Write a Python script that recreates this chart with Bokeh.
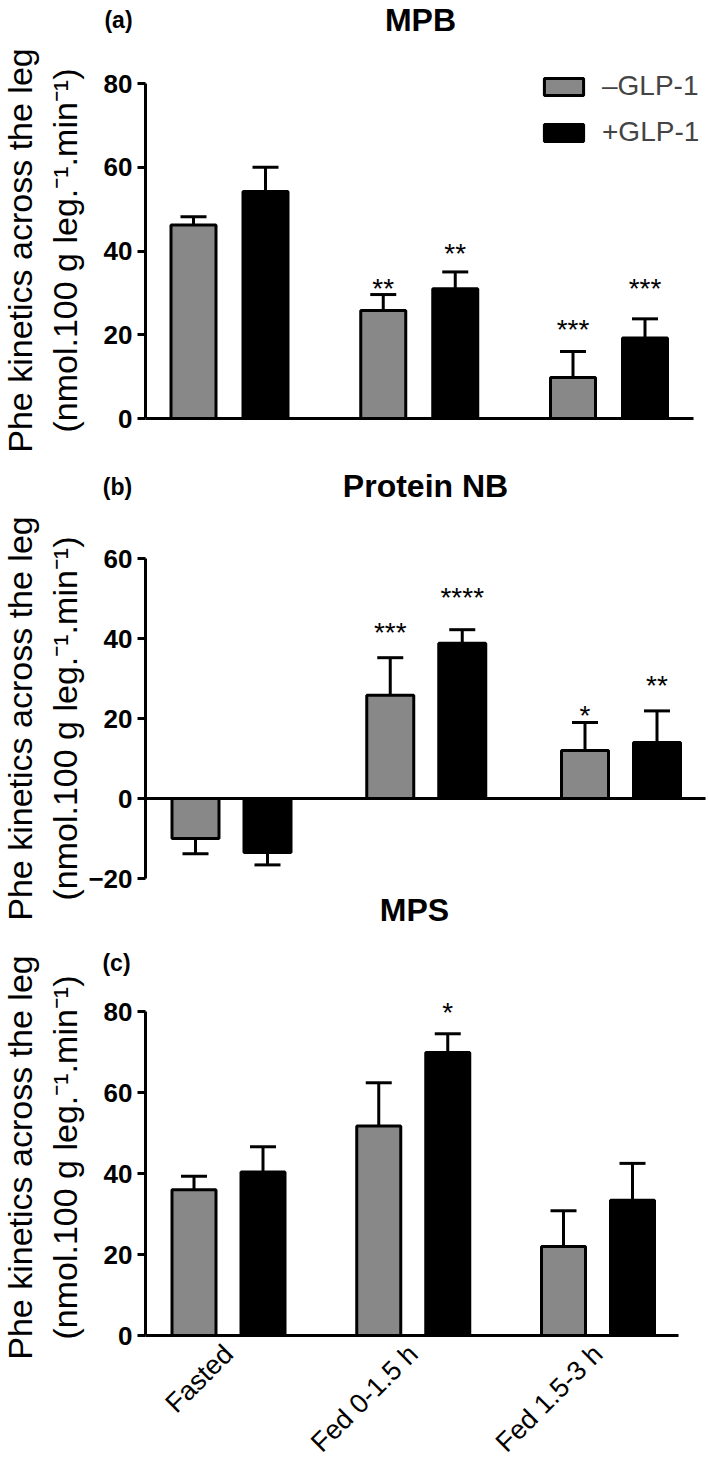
import math
from bokeh.plotting import figure
from bokeh.models import (Range1d, FixedTicker, ColumnDataSource, LabelSet, Label,
                          Legend, LegendItem)
from bokeh.transform import dodge
from bokeh.layouts import column
from bokeh.embed import file_html
from bokeh.resources import INLINE
from bokeh.core.properties import value

# ---------------- data ----------------
groups = ["Fasted", "Fed 0-1.5 h", "Fed 1.5-3 h"]
series_labels = ["\u2013GLP-1", "+GLP-1"]

mpb_minus = [46.2, 25.8, 9.8]
mpb_minus_sem = [2.0, 3.8, 6.2]
mpb_plus = [54.2, 31.0, 19.2]
mpb_plus_sem = [5.8, 4.0, 4.6]
mpb_minus_sig = ["", "**", "***"]
mpb_plus_sig = ["", "**", "***"]
mpb_minus_sig_y = [0, 32.4, 22.8]
mpb_plus_sig_y = [0, 40.8, 32.4]

nb_minus = [-10.0, 25.8, 12.0]
nb_minus_sem = [3.8, 9.4, 7.0]
nb_plus = [-13.5, 38.8, 14.0]
nb_plus_sem = [3.1, 3.4, 7.9]
nb_minus_sig = ["", "***", "*"]
nb_plus_sig = ["", "****", "**"]
nb_minus_sig_y = [0, 43.0, 22.3]
nb_plus_sig_y = [0, 51.8, 29.7]

mps_minus = [36.0, 51.7, 22.0]
mps_minus_sem = [3.3, 10.7, 8.8]
mps_plus = [40.4, 69.9, 33.4]
mps_plus_sem = [6.2, 4.6, 9.1]
mps_minus_sig = ["", "", ""]
mps_plus_sig = ["", "*", ""]
mps_minus_sig_y = [0, 0, 0]
mps_plus_sig_y = [0, 81.2, 0]

mpb_ticks = [0, 20, 40, 60, 80]
nb_ticks = [-20, 0, 20, 40, 60]
mps_ticks = [0, 20, 40, 60, 80]

titles = ["MPB", "Protein NB", "MPS"]
letters = ["(a)", "(b)", "(c)"]

y_label = "Phe kinetics across the leg\n(nmol.100 g leg.\u207b\u00b9.min\u207b\u00b9)"

FONT = "Liberation Sans"
GRAY = "#888888"
FIG_W = 709
AXIS_X = 145          # px position of the y axis


def make_panel(minus, minus_sem, plus, plus_sem, msig, psig, msig_y, psig_y,
               ticks, geo, show_x_labels=False, legend=None):
    # geo: fig height, canvas y of lowest / highest tick, px of first group centre,
    #      px between groups, px between paired bars, bar width px, right end of x axis
    H, px_lo, px_hi, cx0, step, d_in, bw, x_right = geo
    lo, hi = ticks[0], ticks[-1]
    ppu = (px_lo - px_hi) / (hi - lo)
    y_start = lo - (H - px_lo) / ppu
    y_end = hi + px_hi / ppu
    x_start = -cx0 / step
    x_end = x_start + FIG_W / step

    p = figure(width=FIG_W, height=H, x_range=Range1d(x_start, x_end),
               y_range=Range1d(y_start, y_end),
               output_backend="svg", toolbar_location=None,
               min_border_left=0, min_border_right=0,
               min_border_top=0, min_border_bottom=0)
    p.outline_line_color = None
    p.xgrid.visible = False
    p.ygrid.visible = False
    p.background_fill_color = None
    p.border_fill_color = None

    gx = list(range(len(groups)))
    off = (d_in / 2) / step
    width = (bw - 3) / step
    renders = []
    for vals, sems, sigs, sig_y, color, sgn in [
        (minus, minus_sem, msig, msig_y, GRAY, -1),
        (plus, plus_sem, psig, psig_y, "black", 1),
    ]:
        ends = [v + s if v >= 0 else v - s for v, s in zip(vals, sems)]
        src = ColumnDataSource(dict(g=gx, v=vals, e=ends))
        xs = dodge("g", sgn * off)
        p.segment(x0=xs, y0="v", x1=xs, y1="e", source=src,
                  line_color="black", line_width=3)
        p.scatter(x=xs, y="e", source=src, marker="dash", size=26, line_width=3,
                  line_color="black")
        r = p.vbar(x=xs, top="v", bottom=0, width=width, source=src,
                   fill_color=color, line_color="black", line_width=3)
        renders.append(r)
        keep = [i for i, s in enumerate(sigs) if s]
        if keep:
            ssrc = ColumnDataSource(dict(g=[gx[i] for i in keep],
                                         y=[sig_y[i] for i in keep],
                                         t=[sigs[i] for i in keep]))
            p.add_layout(LabelSet(x=dodge("g", sgn * off), y="y",
                                  text="t", source=ssrc, text_align="center",
                                  text_baseline="middle", y_offset=-6,
                                  text_font=value(FONT), text_font_size=value("28px"),
                                  text_color="black"))

    x_axis_pos = x_start + AXIS_X / step

    # y axis, fixed at the left edge of the bar area, drawn over the tick span
    ya = p.yaxis[0]
    ya.fixed_location = x_axis_pos
    ya.bounds = (lo, hi)
    ya.ticker = FixedTicker(ticks=ticks)
    ya.major_label_overrides = {t: ("\u2212" + str(abs(t)) if t < 0 else str(t)) for t in ticks}
    ya.axis_line_width = 3
    ya.axis_line_color = "black"
    ya.major_tick_line_width = 3
    ya.major_tick_line_color = "black"
    ya.major_tick_out = 8
    ya.major_tick_in = 0
    ya.minor_tick_line_color = None
    ya.major_label_standoff = 5
    ya.major_label_text_font = FONT
    ya.major_label_text_font_style = "bold"
    ya.major_label_text_font_size = "26px"
    ya.major_label_text_color = "black"

    # x axis, fixed at y = 0
    xa = p.xaxis[0]
    xa.fixed_location = 0
    xa.bounds = (x_axis_pos, x_start + x_right / step)
    xa.major_tick_line_color = None
    xa.minor_tick_line_color = None
    xa.axis_line_width = 3
    xa.axis_line_color = "black"
    if show_x_labels:
        xa.ticker = FixedTicker(ticks=gx)
        xa.major_label_overrides = {i: g for i, g in zip(gx, groups)}
        xa.major_label_orientation = math.pi / 4
        xa.major_label_text_font = FONT
        xa.major_label_text_font_size = "27px"
        xa.major_label_text_color = "black"
        xa.major_label_standoff = 8
    else:
        xa.ticker = FixedTicker(ticks=[])

    if legend is not None:
        lg = Legend(items=[LegendItem(label=series_labels[0], renderers=[renders[0]]),
                           LegendItem(label=series_labels[1], renderers=[renders[1]])],
                    location=legend, glyph_width=49, glyph_height=21,
                    label_text_font=FONT, label_text_font_size="28px",
                    label_standoff=14, spacing=14, padding=0, margin=0,
                    border_line_color=None, background_fill_alpha=0)
        p.add_layout(lg)
    return p


def add_text(p, text, x, canvas_y, size, bold=True, angle=0.0):
    # x: px from the left edge; canvas_y: px from the figure's top
    p.add_layout(Label(x=x, y=p.height - canvas_y, x_units="screen",
                       y_units="screen", text=text, text_align="center",
                       text_baseline="middle", text_font=FONT,
                       text_font_size=size, angle=angle, text_line_height=1.17,
                       text_font_style="bold" if bold else "normal",
                       text_color="black"))


pa = make_panel(mpb_minus, mpb_minus_sem, mpb_plus, mpb_plus_sem,
                mpb_minus_sig, mpb_plus_sig, mpb_minus_sig_y, mpb_plus_sig_y,
                mpb_ticks, (455, 418, 83, 229, 189.75, 72, 48, 693),
                legend=(539, 307))
pb = make_panel(nb_minus, nb_minus_sem, nb_plus, nb_plus_sem,
                nb_minus_sig, nb_plus_sig, nb_minus_sig_y, nb_plus_sig_y,
                nb_ticks, (475, 423, 103, 231, 194.75, 72, 50, 705))
pc = make_panel(mps_minus, mps_minus_sem, mps_plus, mps_plus_sem,
                mps_minus_sig, mps_plus_sig, mps_minus_sig_y, mps_plus_sig_y,
                mps_ticks, (538, 405, 81, 228, 184.75, 69, 47, 678),
                show_x_labels=True)

for p, cy in [(pa, 250), (pb, 263), (pc, 227)]:
    add_text(p, y_label, 42, cy, "34px", bold=False, angle=math.pi / 2)

add_text(pa, letters[0], 118, 19, "23px")
add_text(pa, titles[0], 420, 19, "32px")
add_text(pb, letters[1], 117, 31, "23px")
add_text(pb, titles[1], 425, 30, "32px")
add_text(pb, titles[2], 414, 454, "32px")
add_text(pc, letters[2], 116, 32, "23px")

layout = column(pa, pb, pc, spacing=0)
open("out.html", "w").write(file_html(layout, INLINE))
